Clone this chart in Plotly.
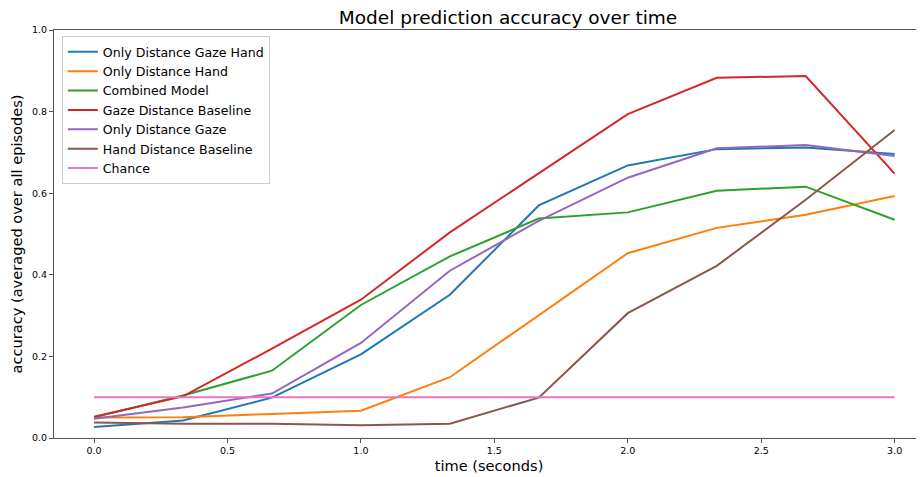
import plotly.graph_objects as go

time_s = [0.0, 1/3, 2/3, 1.0, 4/3, 5/3, 2.0, 7/3, 8/3, 3.0]

only_dist_gaze_hand = [0.027, 0.043, 0.099, 0.205, 0.351, 0.570, 0.668, 0.708, 0.712, 0.696]
only_dist_hand = [0.050, 0.051, 0.059, 0.067, 0.149, 0.302, 0.453, 0.515, 0.547, 0.593]
combined_model = [0.051, 0.104, 0.165, 0.326, 0.445, 0.538, 0.553, 0.606, 0.616, 0.535]
gaze_dist_baseline = [0.052, 0.102, 0.219, 0.339, 0.504, 0.649, 0.794, 0.883, 0.887, 0.648]
only_dist_gaze = [0.047, 0.075, 0.109, 0.233, 0.410, 0.532, 0.638, 0.710, 0.718, 0.691]
hand_dist_baseline = [0.038, 0.035, 0.035, 0.031, 0.035, 0.099, 0.306, 0.422, 0.584, 0.755]
chance = [0.1] * 10

series = [
    ("Only Distance Gaze Hand", only_dist_gaze_hand, "#1f77b4"),
    ("Only Distance Hand", only_dist_hand, "#ff7f0e"),
    ("Combined Model", combined_model, "#2ca02c"),
    ("Gaze Distance Baseline", gaze_dist_baseline, "#d62728"),
    ("Only Distance Gaze", only_dist_gaze, "#9467bd"),
    ("Hand Distance Baseline", hand_dist_baseline, "#8c564b"),
    ("Chance", chance, "#e377c2"),
]

x_ticks = [0.0, 0.5, 1.0, 1.5, 2.0, 2.5, 3.0]
y_ticks = [0.0, 0.2, 0.4, 0.6, 0.8, 1.0]

fig = go.Figure()
for name, vals, col in series:
    fig.add_trace(go.Scatter(x=time_s, y=vals, mode="lines", name=name,
                             line=dict(color=col, width=2)))

W, H = 916, 469
font_family = "DejaVu Sans, sans-serif"
fig.update_layout(
    width=W, height=H,
    margin=dict(l=46, r=0, t=22, b=39, autoexpand=False),
    paper_bgcolor="white", plot_bgcolor="white",
    font=dict(family=font_family, color="black"),
    title=dict(text="Model prediction accuracy over time", x=500/W, xref="container",
               xanchor="center", y=1-10/H, yref="container", yanchor="middle",
               font=dict(size=18.5, color="black")),
    legend=dict(x=0.009, y=0.985, xanchor="left", yanchor="top",
                bgcolor="rgba(255,255,255,0.8)", bordercolor="#cccccc", borderwidth=1,
                font=dict(size=12.6), tracegroupgap=0),
    showlegend=True,
)
fig.update_xaxes(range=[-0.15, 3.11], tickvals=x_ticks, tickformat=".1f",
                 showgrid=False, zeroline=False, showline=True, linecolor="#555555",
                 linewidth=1, mirror=True, ticks="outside", ticklen=4, tickcolor="#555555",
                 tickfont=dict(size=9.5), automargin=False,
                 title=dict(text="time (seconds)", font=dict(size=14.6), standoff=5))
fig.update_yaxes(range=[0, 1.0], tickvals=y_ticks, tickformat=".1f",
                 showgrid=False, zeroline=False, showline=True, linecolor="#555555",
                 linewidth=1, mirror=False, ticks="outside", ticklen=4, tickcolor="#555555",
                 tickfont=dict(size=9.5), automargin=False,
                 title=dict(text="accuracy (averaged over all episodes)", font=dict(size=14.6), standoff=6))

fig.write_html("out.html")
